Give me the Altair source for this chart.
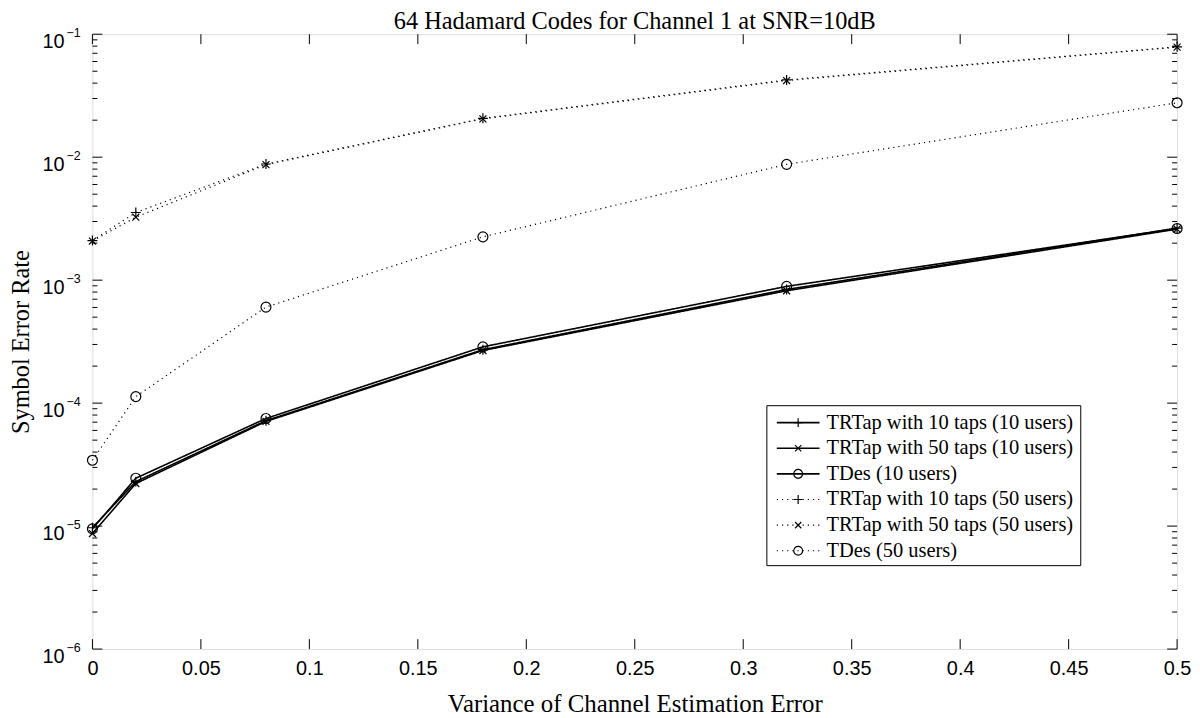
import altair as alt
import pandas as pd

# ---------------- data ----------------
x_vals = [0, 0.02, 0.08, 0.18, 0.32, 0.5]

series_names = [
    "TRTap with 10 taps (10 users)",
    "TRTap with 50 taps (10 users)",
    "TDes (10 users)",
    "TRTap with 10 taps (50 users)",
    "TRTap with 50 taps (50 users)",
    "TDes (50 users)",
]
series_users = ["10 users", "10 users", "10 users", "50 users", "50 users", "50 users"]

trtap10_u10 = [9.7e-6, 2.30e-5, 7.20e-5, 2.72e-4, 8.40e-4, 2.65e-3]
trtap50_u10 = [8.7e-6, 2.22e-5, 7.10e-5, 2.68e-4, 8.20e-4, 2.60e-3]
tdes_u10 = [9.5e-6, 2.45e-5, 7.50e-5, 2.87e-4, 8.90e-4, 2.63e-3]
trtap10_u50 = [2.10e-3, 3.55e-3, 8.80e-3, 2.07e-2, 4.25e-2, 7.90e-2]
trtap50_u50 = [2.08e-3, 3.25e-3, 8.70e-3, 2.05e-2, 4.20e-2, 7.85e-2]
tdes_u50 = [3.43e-5, 1.13e-4, 6.04e-4, 2.25e-3, 8.75e-3, 2.77e-2]

series_values = [trtap10_u10, trtap50_u10, tdes_u10, trtap10_u50, trtap50_u50, tdes_u50]

x_ticks = [0, 0.05, 0.1, 0.15, 0.2, 0.25, 0.3, 0.35, 0.4, 0.45, 0.5]
y_decades = [1e-6, 1e-5, 1e-4, 1e-3, 1e-2, 1e-1]
y_exponents = ["\u22126", "\u22125", "\u22124", "\u22123", "\u22122", "\u22121"]
y_minor = [k * d for d in [1e-6, 1e-5, 1e-4, 1e-3, 1e-2] for k in range(2, 10)]

title_text = "64 Hadamard Codes for Channel 1 at SNR=10dB"
x_title = "Variance of Channel Estimation Error"
y_title = "Symbol Error Rate"

# ---------------- tables ----------------
rows = []
for name, users, vals in zip(series_names, series_users, series_values):
    for xv, yv in zip(x_vals, vals):
        rows.append({"series": name, "users": users, "x": xv, "y": yv})
df = pd.DataFrame(rows)

df_xt = pd.DataFrame({"x": x_ticks})
df_yd = pd.DataFrame({"y": y_decades, "exp": y_exponents})
df_ym = pd.DataFrame({"y": y_minor})
df_leg = pd.DataFrame({"series": series_names, "users": series_users, "row": list(range(6))})
df_one = pd.DataFrame({"t": [title_text]})

# ---------------- layout / style ----------------
W, H = 1092, 619
SERIF = "Liberation Serif"
SANS = "Liberation Sans"

PLUS = "M-1,0L1,0M0,-1L0,1"
CROSS = "M-0.7,-0.7L0.7,0.7M-0.7,0.7L0.7,-0.7"

X_SCALE = alt.Scale(domain=[0, 0.5], nice=False, zero=False)
Y_SCALE = alt.Scale(type="log", domain=[1e-6, 1e-1], nice=False)

X_AX = alt.Axis(values=x_ticks, format="~g", ticks=False, tickSize=0, domain=False,
                grid=False, labelFont=SANS, labelFontSize=20, labelPadding=10,
                labelColor="black", labelFlush=False, labelOverlap=False,
                title=x_title, titleFont=SERIF, titleFontSize=25,
                titleFontWeight="normal", titleColor="black",
                titleBaseline="alphabetic", titleY=63, titleX=W / 2)
Y_AX = alt.Axis(labels=False, ticks=False, tickSize=0, domain=False, grid=False,
                title=y_title, titleFont=SERIF, titleFontSize=24.5,
                titleFontWeight="normal", titleColor="black", titleAngle=270,
                titleBaseline="alphabetic", titleX=-64, titleY=H / 2,
                titleAlign="center")

X = alt.X("x:Q", scale=X_SCALE, axis=X_AX)
Y = alt.Y("y:Q", scale=Y_SCALE, axis=Y_AX)

shape_scale = alt.Scale(domain=series_names,
                        range=[PLUS, CROSS, "circle", PLUS, CROSS, "circle"])
dash_scale = alt.Scale(domain=["10 users", "50 users"], range=[[1, 0], [1.2, 4]])
width_scale = alt.Scale(domain=["10 users", "50 users"], range=[1.6, 1.2])

lines = alt.Chart(df).mark_line(color="black").encode(
    x=X, y=Y, detail="series:N",
    strokeDash=alt.StrokeDash("users:N", scale=dash_scale, legend=None),
    strokeWidth=alt.StrokeWidth("users:N", scale=width_scale, legend=None),
)
points = alt.Chart(df).mark_point(filled=False, color="black", strokeWidth=1.2,
                                  size=100, opacity=1).encode(
    x=X, y=Y,
    shape=alt.Shape("series:N", scale=shape_scale, legend=None),
)

# box ticks (inward, MATLAB style)
tick_col = "black"
xt_bottom = alt.Chart(df_xt).mark_rule(color=tick_col, strokeWidth=1).encode(
    x=X, y=alt.value(H), y2=alt.value(H - 10))
xt_top = alt.Chart(df_xt).mark_rule(color=tick_col, strokeWidth=1).encode(
    x=X, y=alt.value(0), y2=alt.value(10))
yt_left = alt.Chart(df_yd).mark_rule(color=tick_col, strokeWidth=1).encode(
    y=Y, x=alt.value(0), x2=alt.value(10))
yt_right = alt.Chart(df_yd).mark_rule(color=tick_col, strokeWidth=1).encode(
    y=Y, x=alt.value(W), x2=alt.value(W - 10))
ym_left = alt.Chart(df_ym).mark_rule(color=tick_col, strokeWidth=1).encode(
    y=Y, x=alt.value(0), x2=alt.value(5))
ym_right = alt.Chart(df_ym).mark_rule(color=tick_col, strokeWidth=1).encode(
    y=Y, x=alt.value(W), x2=alt.value(W - 5))

# y tick labels: 10 with superscript exponent
ylab_base = alt.Chart(df_yd).mark_text(font=SANS, fontSize=20, align="right",
                                       baseline="alphabetic", dy=14, color="black").encode(
    y=Y, x=alt.value(-28), text=alt.value("10"))
ylab_exp = alt.Chart(df_yd).mark_text(font=SANS, fontSize=12.5, align="left",
                                      baseline="alphabetic", dy=3, color="black").encode(
    y=Y, x=alt.value(-26), text="exp:N")

# chart title
title_mark = alt.Chart(df_one).mark_text(font=SERIF, fontSize=24.5, align="center",
                                         baseline="alphabetic", color="black").encode(
    x=alt.value(W / 2), y=alt.value(-5), text="t:N")

# legend (drawn inside the plot)
LX0, LX1, LY0, LY1 = 679, 995, 374, 535
ROW0, ROWSTEP = 391, 25.8
leg_box = alt.Chart(df_one).mark_rect(fill="white", stroke="black", strokeWidth=1).encode(
    x=alt.value(LX0), x2=alt.value(LX1), y=alt.value(LY0), y2=alt.value(LY1))
leg_base = alt.Chart(df_leg).transform_calculate(ly=f"{ROW0} + datum.row * {ROWSTEP}")
LY = alt.Y("ly:Q", scale=None)
leg_lines = leg_base.mark_rule(color="black").encode(
    x=alt.value(689), x2=alt.value(732), y=LY,
    strokeDash=alt.StrokeDash("users:N", scale=dash_scale, legend=None),
    strokeWidth=alt.StrokeWidth("users:N", scale=width_scale, legend=None),
)
leg_points = leg_base.mark_point(filled=False, color="black", strokeWidth=1.2,
                                 size=80, opacity=1).encode(
    x=alt.value(710.5), y=LY,
    shape=alt.Shape("series:N", scale=shape_scale, legend=None),
)
leg_text = leg_base.mark_text(font=SERIF, fontSize=20.6, align="left",
                              baseline="middle", color="black").encode(
    x=alt.value(739), y=LY, text="series:N")

chart = alt.layer(
    lines, points,
    xt_bottom, xt_top, yt_left, yt_right, ym_left, ym_right,
    ylab_base, ylab_exp, title_mark,
    leg_box, leg_lines, leg_points, leg_text,
).properties(
    width=W, height=H,
    padding={"left": 85, "top": 24, "right": 15, "bottom": 67},
    autosize="none",
).configure_view(
    stroke="black", strokeWidth=1.2
).configure(background="white")

chart.save("out.html", embed_options={"renderer": "svg", "actions": False})
